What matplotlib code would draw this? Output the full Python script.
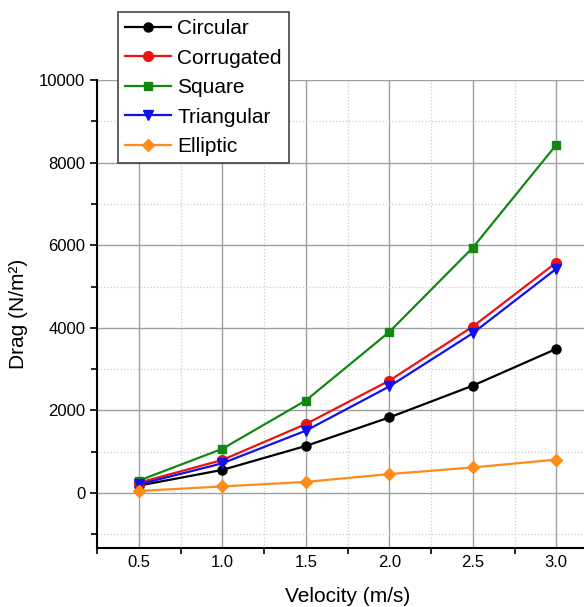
import numpy as np
import matplotlib.pyplot as plt
from matplotlib.ticker import MultipleLocator

plt.rcParams['font.family'] = ['Liberation Sans', 'DejaVu Sans']

# -----------------------------
# Data
# -----------------------------
velocity = [0.5, 1.0, 1.5, 2.0, 2.5, 3.0]
circular = [180, 560, 1140, 1830, 2600, 3490]
corrugated = [250, 800, 1670, 2720, 4030, 5580]
square = [300, 1070, 2240, 3900, 5940, 8430]
triangular = [210, 720, 1510, 2580, 3870, 5430]
elliptic = [50, 160, 270, 460, 620, 810]

series = [
    ('Circular', circular, 'black', 'o', 6.5),
    ('Corrugated', corrugated, '#ee1111', 'o', 7),
    ('Square', square, '#118811', 's', 6),
    ('Triangular', triangular, '#1111ee', 'v', 7.5),
    ('Elliptic', elliptic, '#ff8c1a', 'D', 6.5),
]

# -----------------------------
# Figure setup
# -----------------------------
fig = plt.figure(figsize=(5.84, 6.07), dpi=100)
ax = fig.add_axes([97 / 584, 1 - 548 / 607, (598 - 97) / 584, (548 - 80) / 607])

handles = []
for name, vals, col, mk, ms in series:
    h, = ax.plot(velocity, vals, color=col, marker=mk, markersize=ms,
                 linewidth=1.6, label=name, clip_on=False, zorder=3)
    handles.append(h)

ax.set_xlim(0.25, 3.25)
ax.set_ylim(-1330, 10000)
ax.xaxis.set_major_locator(MultipleLocator(0.5))
ax.xaxis.set_minor_locator(MultipleLocator(0.25))
ax.yaxis.set_major_locator(MultipleLocator(2000))
ax.yaxis.set_minor_locator(MultipleLocator(1000))
ax.set_xticks([0.5, 1.0, 1.5, 2.0, 2.5, 3.0])
ax.set_yticks([0, 2000, 4000, 6000, 8000, 10000])

ax.grid(which='major', color='#a0a0a0', linewidth=1.0, linestyle='-')
ax.grid(which='minor', color='#cccccc', linewidth=0.9, linestyle=':')
ax.set_axisbelow(True)

for s in ['top', 'right']:
    ax.spines[s].set_visible(False)
for s in ['left', 'bottom']:
    ax.spines[s].set_linewidth(1.5)

ax.tick_params(axis='both', which='major', labelsize=12, width=1.2, length=5,
               direction='out', colors='black')
ax.tick_params(axis='x', which='major', length=0, pad=5)
ax.tick_params(axis='both', which='minor', width=1.2, length=4, direction='out')

ax.set_xlabel('Velocity (m/s)', fontsize=15, labelpad=12)
ax.set_ylabel('Drag (N/m²)', fontsize=15, labelpad=8)

leg = fig.legend(handles=handles, loc='upper left',
                 bbox_to_anchor=(118 / 584, 1 - 12 / 607), borderaxespad=0,
                 fontsize=15, frameon=True, fancybox=False, framealpha=1,
                 edgecolor='#444444', handlelength=2.2, handletextpad=0.3,
                 labelspacing=0.5, borderpad=0.35)
leg.get_frame().set_linewidth(1.2)
leg.set_zorder(10)

fig.savefig('out.png', dpi=100)
